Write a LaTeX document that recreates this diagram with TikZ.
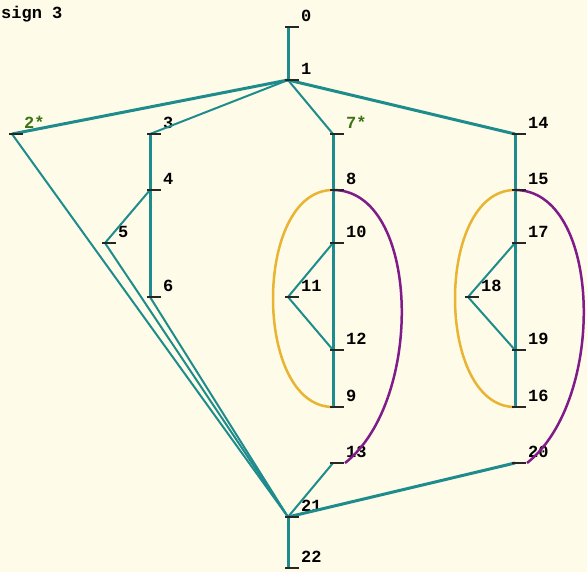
\documentclass[tikz,border=0pt]{standalone}
\usepackage{fontspec}
\setmainfont{Liberation Mono}
\usetikzlibrary{calc}
\definecolor{Cream}{RGB}{254,251,232}
\definecolor{Teal}{RGB}{30,140,140}
\definecolor{Ochre}{RGB}{232,180,50}
\definecolor{Plum}{RGB}{128,28,138}
\definecolor{Olive}{RGB}{60,115,20}
\begin{document}
\begin{tikzpicture}[x=1pt,y=-1pt,
  edge/.style={Teal,line width=2pt},
  spine/.style={Teal,line width=3pt},
  tick/.style={black!85,line width=1.6pt},
  lbl/.style={anchor=south west,inner sep=0pt,font=\bfseries\fontsize{17}{17}\selectfont},
  star/.style={lbl,text=Olive}]
\fill[Cream] (0,0) rectangle (587,572);
\useasboundingbox (0,0) rectangle (587,572);
\node[lbl,anchor=base west] (title) at (1,19) {sign 3};
\foreach \n/\x/\y in {0/288/27,1/288/80,3/150/134,4/150/190,5/105/243,6/150/297,
  8/333/190,10/333/243,11/288/297,12/333/350,9/333/407,13/333/463,
  14/515/134,15/515/190,17/515/243,18/468/297,19/515/350,16/515/407,20/515/463,
  21/288/517,22/288/568}{
  \coordinate (n\n) at (\x,\y);
  \node[lbl] (l\n) at ($(n\n)+(13,-5)$) {\n};
}
\coordinate (n2) at (12,134);
\coordinate (n7) at (333,134);
\node[star] (l2) at ($(n2)+(12,-5)$) {2*};
\node[star] (l7) at ($(n7)+(13,-5)$) {7*};
\draw[spine] (n0) -- (n1);
\draw[spine] (n1) -- (n2);
\draw[edge] (n1) -- (n3);
\draw[edge] (n1) -- (n7);
\draw[spine] (n1) -- (n14);
\draw[spine] (n3) -- (n6);
\draw[edge] (n4) -- (n5);
\draw[edge] (n2) -- (n21);
\draw[edge] (n5) -- (n21);
\draw[edge] (n6) -- (n21);
\draw[spine] (n7) -- (n9);
\draw[edge] (n10) -- (n11) -- (n12);
\draw[spine] (n14) -- (n16);
\draw[edge] (n17) -- (n18) -- (n19);
\draw[edge] (n13) -- (n21);
\draw[spine] (n20) -- (n21);
\draw[spine] (n21) -- (n22);
\draw[Ochre,line width=2.5pt] (n8) .. controls ($(n8)+(-80,0)$) and ($(n9)+(-80,0)$) .. (n9);
\draw[Plum,line width=2.5pt] (n8) .. controls ($(n8)+(87,0)$) and ($(n13)+(92,-63)$) .. ($(n13)+(12,0)$);
\draw[Ochre,line width=2.5pt] (n15) .. controls ($(n15)+(-80,0)$) and ($(n16)+(-80,0)$) .. (n16);
\draw[Plum,line width=2.5pt] (n15) .. controls ($(n15)+(87,0)$) and ($(n20)+(92,-63)$) .. ($(n20)+(12,0)$);
\foreach \n in {0,1,2,3,4,5,6,7,8,10,11,12,9,13,14,15,17,18,19,16,20,21,22}
  \draw[tick] ($(n\n)+(-3,0)$) -- ++(14,0);
\end{tikzpicture}
\end{document}
